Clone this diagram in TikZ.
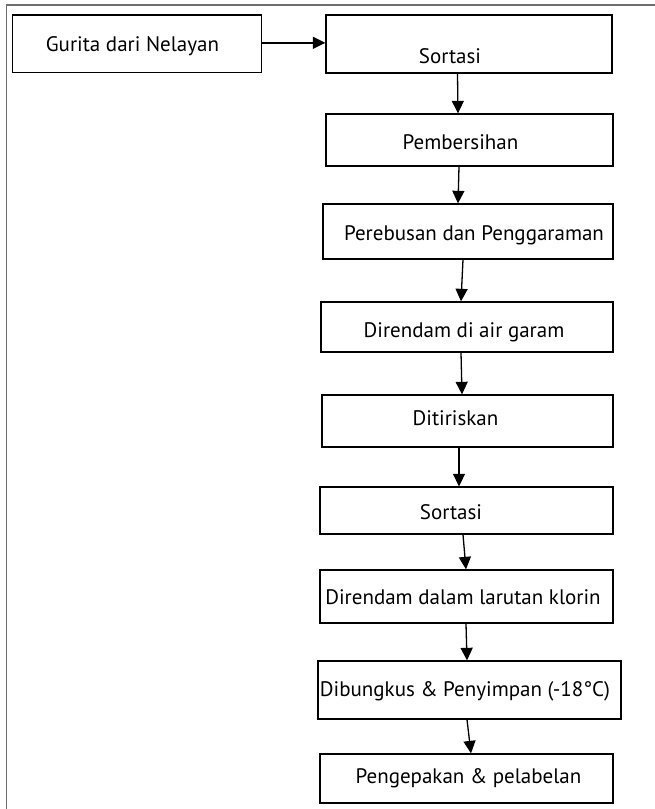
\documentclass[tikz,border=0pt]{standalone}
\usepackage{fontspec}
\setmainfont{PT Sans}
\usetikzlibrary{arrows.meta}
\definecolor{framegray}{HTML}{6E6E6E}
\begin{document}
\begin{tikzpicture}[x=1pt,y=-1pt,
  stepbox/.style={draw=black,line width=1.3pt,inner sep=0pt,
    minimum width=#1},
  steptext/.style={anchor=base,inner sep=0pt,
    font=\fontsize{21}{24}\selectfont},
  flow/.style={line width=1.3pt,-{Triangle[length=12.5pt,width=12pt]}}]
% page area and frame
\useasboundingbox (0,0) rectangle (655,809);
\fill[white] (0,0) rectangle (655,809);
\draw[framegray,line width=1.6pt] (6.5,809) -- (6.5,5) -- (655,5);

% process boxes
\node[stepbox=249pt,minimum height=57.7pt] (s0) at (137,43.85) {};
\node[stepbox=286pt,minimum height=58pt] (s1) at (469,44) {};
\node[stepbox=287pt,minimum height=52pt] (s2) at (469.5,140) {};
\node[stepbox=290pt,minimum height=55pt] (s3) at (468,231.5) {};
\node[stepbox=292pt,minimum height=50pt] (s4) at (467,327) {};
\node[stepbox=291pt,minimum height=52pt] (s5) at (467.5,421) {};
\node[stepbox=293pt,minimum height=47pt] (s6) at (466.5,510.5) {};
\node[stepbox=293pt,minimum height=53pt] (s7) at (466.5,596.5) {};
\node[stepbox=303pt,minimum height=58pt] (s8) at (469.5,690) {};
\node[stepbox=293pt,minimum height=49pt] (s9) at (466.5,778.5) {};

% box captions
\node[steptext] (t0) at (132.5,51) {Gurita dari Nelayan};
\node[steptext] (t1) at (450,63) {Sortasi};
\node[steptext] (t2) at (460.5,149) {Pembersihan};
\node[steptext] (t3) at (474,240) {Perebusan dan Penggaraman};
\node[steptext] (t4) at (464,337) {Direndam di air garam};
\node[steptext] (t5) at (455.5,425) {Ditiriskan};
\node[steptext] (t6) at (451,519) {Sortasi};
\node[steptext] (t7) at (463,604) {Direndam dalam larutan klorin};
\node[steptext] (t8) at (465,696) {Dibungkus \& Penyimpan (-18°C)};
\node[steptext] (t9) at (468.5,783) {Pengepakan \& pelabelan};

% connectors
\draw[flow] ([yshift=1]s0.east) -- ([yshift=1]s0.east -| s1.west);
\draw[flow] ([xshift=-11.5]s1.south) -- ([xshift=-11.5]s2.north);
\draw[flow] ([xshift=-10.5]s2.south) -- ([xshift=-10]s3.north);
\draw[flow] ([xshift=-5]s3.south) -- ([xshift=-6]s4.north);
\draw[flow] ([xshift=-6]s4.south) -- ([xshift=-5.5]s5.north);
\draw[flow] ([xshift=-8.5]s5.south) -- ([xshift=-7.5]s6.north);
\draw[flow] ([xshift=-3.5]s6.south) -- ([xshift=-0.5]s7.north);
\draw[flow] ([xshift=-0.5]s7.south) -- ([xshift=-2.5]s8.north);
\draw[flow] ([xshift=-2.5]s8.south) -- ([xshift=4.5]s9.north);
\end{tikzpicture}
\end{document}
